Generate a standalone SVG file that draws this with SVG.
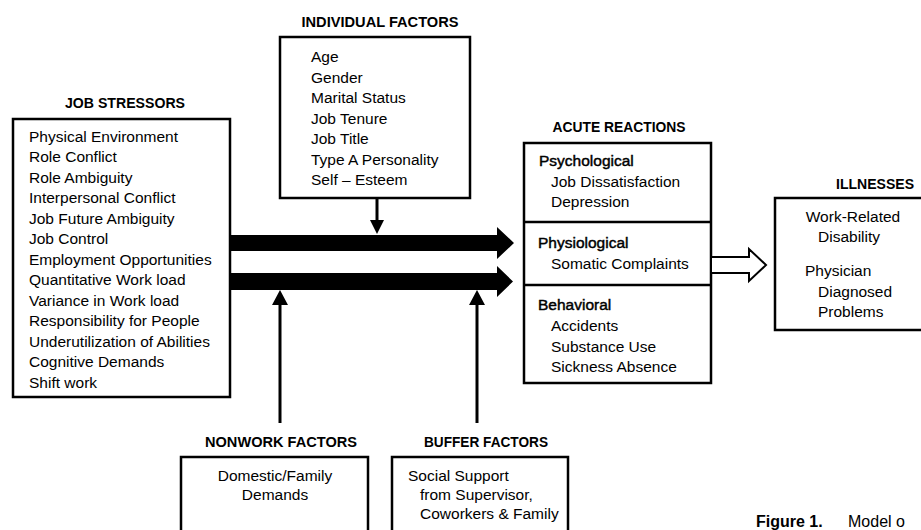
<svg xmlns="http://www.w3.org/2000/svg" width="921" height="530" viewBox="0 0 921 530">
<style>
.box{fill:#fff;stroke:#000;stroke-width:2.5}
.t{font-family:"Liberation Sans",Arial,sans-serif;font-size:15.5px;fill:#000}
.sub{font-family:"Liberation Sans",Arial,sans-serif;font-size:15.5px;fill:#000;stroke:#000;stroke-width:0.45}
.h{font-family:"Liberation Sans",Arial,sans-serif;font-size:14px;font-weight:bold;fill:#000;text-anchor:middle}
.c{text-anchor:middle}
.ln{stroke:#000;stroke-width:3;fill:none}
</style>
<rect width="921" height="530" fill="#fff"/>

<g id="job-stressors">
<text class="h" x="125" y="108" textLength="120" lengthAdjust="spacingAndGlyphs">JOB STRESSORS</text>
<rect class="box" x="13" y="119" width="217" height="278"/>
<text class="t" x="29" y="142">Physical Environment</text>
<text class="t" x="29" y="162">Role Conflict</text>
<text class="t" x="29" y="183">Role Ambiguity</text>
<text class="t" x="29" y="203">Interpersonal Conflict</text>
<text class="t" x="29" y="224">Job Future Ambiguity</text>
<text class="t" x="29" y="244">Job Control</text>
<text class="t" x="29" y="265">Employment Opportunities</text>
<text class="t" x="29" y="285">Quantitative Work load</text>
<text class="t" x="29" y="306">Variance in Work load</text>
<text class="t" x="29" y="326">Responsibility for People</text>
<text class="t" x="29" y="347">Underutilization of Abilities</text>
<text class="t" x="29" y="367">Cognitive Demands</text>
<text class="t" x="29" y="388">Shift work</text>
</g>

<g id="individual-factors">
<text class="h" x="380" y="27" textLength="157" lengthAdjust="spacingAndGlyphs">INDIVIDUAL FACTORS</text>
<rect class="box" x="280" y="37" width="190" height="161"/>
<text class="t" x="311" y="62">Age</text>
<text class="t" x="311" y="83">Gender</text>
<text class="t" x="311" y="103">Marital Status</text>
<text class="t" x="311" y="124">Job Tenure</text>
<text class="t" x="311" y="144">Job Title</text>
<text class="t" x="311" y="165">Type A Personality</text>
<text class="t" x="311" y="185">Self – Esteem</text>
</g>

<g id="acute-reactions">
<text class="h" x="619" y="132" textLength="133" lengthAdjust="spacingAndGlyphs">ACUTE REACTIONS</text>
<rect class="box" x="524" y="143" width="187" height="240"/>
<line class="ln" x1="524" y1="222" x2="711" y2="222" style="stroke-width:2.5"/>
<line class="ln" x1="524" y1="285" x2="711" y2="285" style="stroke-width:2.5"/>
<text class="sub" x="539" y="166">Psychological</text>
<text class="t" x="551" y="187">Job Dissatisfaction</text>
<text class="t" x="551" y="207">Depression</text>
<text class="sub" x="538" y="248">Physiological</text>
<text class="t" x="551" y="269">Somatic Complaints</text>
<text class="sub" x="538" y="310">Behavioral</text>
<text class="t" x="551" y="331">Accidents</text>
<text class="t" x="551" y="352">Substance Use</text>
<text class="t" x="551" y="372">Sickness Absence</text>
</g>

<g id="illnesses">
<text class="h" x="875" y="189" textLength="78" lengthAdjust="spacingAndGlyphs">ILLNESSES</text>
<rect class="box" x="775" y="198" width="160" height="132"/>
<text class="t c" x="853" y="222">Work-Related</text>
<text class="t" x="818" y="242">Disability</text>
<text class="t" x="805" y="276">Physician</text>
<text class="t" x="818" y="297">Diagnosed</text>
<text class="t" x="818" y="317">Problems</text>
</g>

<g id="nonwork-factors">
<text class="h" x="281" y="447" textLength="152" lengthAdjust="spacingAndGlyphs">NONWORK FACTORS</text>
<rect class="box" x="181" y="457" width="187" height="90"/>
<text class="t c" x="275" y="481">Domestic/Family</text>
<text class="t c" x="275" y="500">Demands</text>
</g>

<g id="buffer-factors">
<text class="h" x="486" y="447" textLength="124" lengthAdjust="spacingAndGlyphs">BUFFER FACTORS</text>
<rect class="box" x="392" y="457" width="176" height="90"/>
<text class="t" x="408" y="481">Social Support</text>
<text class="t" x="420" y="500">from Supervisor,</text>
<text class="t" x="420" y="519">Coworkers &amp; Family</text>
</g>

<g id="connectors">
<polygon points="230,235 497,235 497,227 514,243 497,259 497,251 230,251" fill="#000"/>
<polygon points="230,273 497,273 497,266 513,281.5 497,297 497,290 230,290" fill="#000"/>
<line class="ln" x1="377" y1="198" x2="377" y2="221"/>
<polygon points="370,220 384,220 377,234" fill="#000"/>
<line class="ln" x1="280" y1="304" x2="280" y2="423"/>
<polygon points="272,305 288,305 280,290" fill="#000"/>
<line class="ln" x1="477" y1="304" x2="477" y2="423"/>
<polygon points="469,305 485,305 477,290" fill="#000"/>
<polygon points="711,257 749,257 749,249 766,265 749,281 749,273 711,273" fill="#fff" stroke="#000" stroke-width="2" stroke-linejoin="miter"/>
</g>

<g id="caption">
<text x="756" y="527" font-family="Liberation Sans,Arial,sans-serif" font-size="16" fill="#000"><tspan font-weight="bold">Figure 1.</tspan><tspan x="848">Model o</tspan></text>
</g>
</svg>
